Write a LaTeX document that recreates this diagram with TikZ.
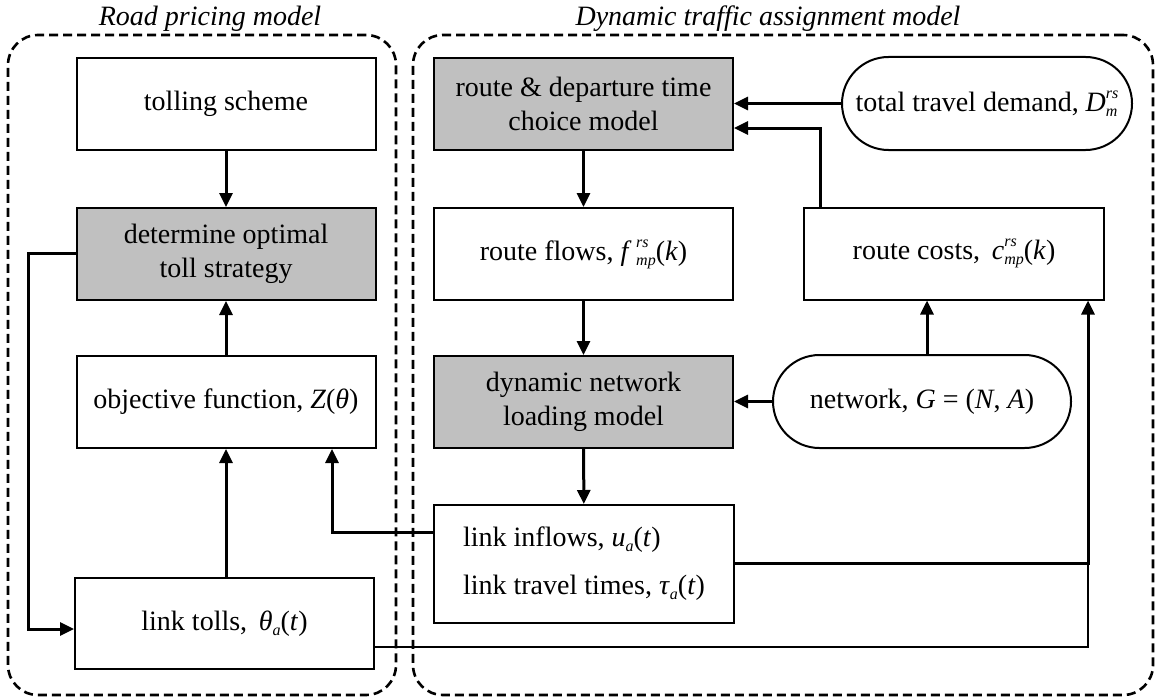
\documentclass[tikz,border=0pt]{standalone}
\usepackage{fontspec}
\setmainfont{Liberation Serif}
\usetikzlibrary{arrows.meta,shapes.misc}
\definecolor{boxgray}{RGB}{192,192,192}
\newcommand{\mi}[1]{\textit{#1}}
% stacked super/subscript
\newcommand{\sps}[2]{\mbox{\fontsize{16}{16}\selectfont\itshape
  \setbox0\hbox{\raise13pt\hbox{#1}}\setbox2\hbox{\lower5pt\hbox{#2}}%
  \ifdim\wd0>\wd2 \rlap{\box2}\box0\else\rlap{\box0}\box2\fi}}
\newcommand{\sbs}[1]{\mbox{\fontsize{16}{16}\selectfont\itshape\lower5pt\hbox{#1}}}
\tikzset{
  box/.style={draw, line width=2pt, minimum width=299pt, minimum height=92pt, inner sep=0pt,
    align=center, font=\fontsize{28}{34}\selectfont},
  graybox/.style={box, fill=boxgray},
  pill/.style={box, rounded rectangle, minimum width=298pt, minimum height=93pt},
  arr/.style={line width=3pt, -{Triangle[length=14pt,width=13pt]}},
  thinln/.style={line width=2pt},
  region/.style={draw, line width=2.6pt, dash pattern=on 9pt off 5pt, rounded corners=30pt, inner sep=0pt},
  ttl/.style={font=\fontsize{28}{34}\selectfont\itshape, anchor=base, inner sep=0pt}
}
\begin{document}
\begin{tikzpicture}[x=1pt,y=-1pt]
\useasboundingbox (0,0) rectangle (1155,698);
% regions
\node[region, minimum width=388pt, minimum height=660pt] (rpm) at (202,365) {};
\node[region, minimum width=740pt, minimum height=660pt] (dta) at (783,365) {};
\node[ttl] (rpmt) at (210,26) {Road pricing model};
\node[ttl] (dtat) at (768,26) {Dynamic traffic assignment model};
% left column
\node[box] (tolling) at (226,104) {tolling scheme};
\node[graybox] (determine) at (226,254) {determine optimal\\toll strategy};
\node[box] (objective) at (226,402) {objective function, \mi{Z}(\mi{θ})};
\node[box, minimum width=299pt, minimum height=91pt] (linktolls) at (224.5,623.5) {link tolls, \,\mi{θ}\sbs{a}(\mi{t})};
% right column
\node[graybox] (route) at (583.5,104) {route \& departure time\\choice model};
\node[pill, minimum width=290pt] (demand) at (987,103.5) {total travel demand, \mi{D}\sps{rs}{m}};
\node[box] (flows) at (583.5,254) {route flows, \mi{f}\,\sps{rs}{mp}(\mi{k})};
\node[box, minimum width=300pt] (costs) at (954,253.5) {route costs, \,\mi{c}\sps{rs}{mp}(\mi{k})};
\node[graybox] (dnl) at (583.5,402) {dynamic network\\loading model};
\node[pill] (network) at (922,401.5) {network, \mi{G} = (\mi{N}, \mi{A})};
\node[box, minimum width=300pt, minimum height=118pt, align=left] (links) at (584,564)
  {link inflows, \mi{u}\sbs{a}(\mi{t})\\[14pt]link travel times, \mi{τ}\sbs{a}(\mi{t})};
% coordinates
\coordinate (l1) at (28,253);
\coordinate (l2) at (28,629);
\coordinate (o1) at (332,532);
\coordinate (c1) at (820,128);
\coordinate (n1) at (927,355);
\coordinate (r1) at (1088,563);
\coordinate (r2) at (1088,647);
% connectors left
\draw[arr] (tolling) -- (determine);
\draw[arr] (objective) -- (determine);
\draw[arr] (objective.south |- linktolls.north) -- (objective.south);
\draw[arr] (determine.west |- l1) -- (l1) -- (l2) -- (linktolls.west |- l2);
\draw[arr] (links.west |- o1) -- (o1) -- (o1 |- objective.south);
% connectors right
\draw[arr] (route) -- (flows);
\draw[arr] (flows) -- (dnl);
\draw[arr] (dnl) -- (links);
\draw[arr] (demand.west) -- (route.east |- demand.west);
\draw[arr] (costs.north -| c1) -- (c1) -- (route.east |- c1);
\draw[arr] (network.north -| n1) -- (n1 |- costs.south);
\draw[arr] (network.west) -- (dnl.east |- network.west);
\draw[thinln] (linktolls.east |- r2) -- (r2) -- (r1);
\draw[arr] (links.east |- r1) -- (r1) -- (r1 |- costs.south);
\end{tikzpicture}
\end{document}
